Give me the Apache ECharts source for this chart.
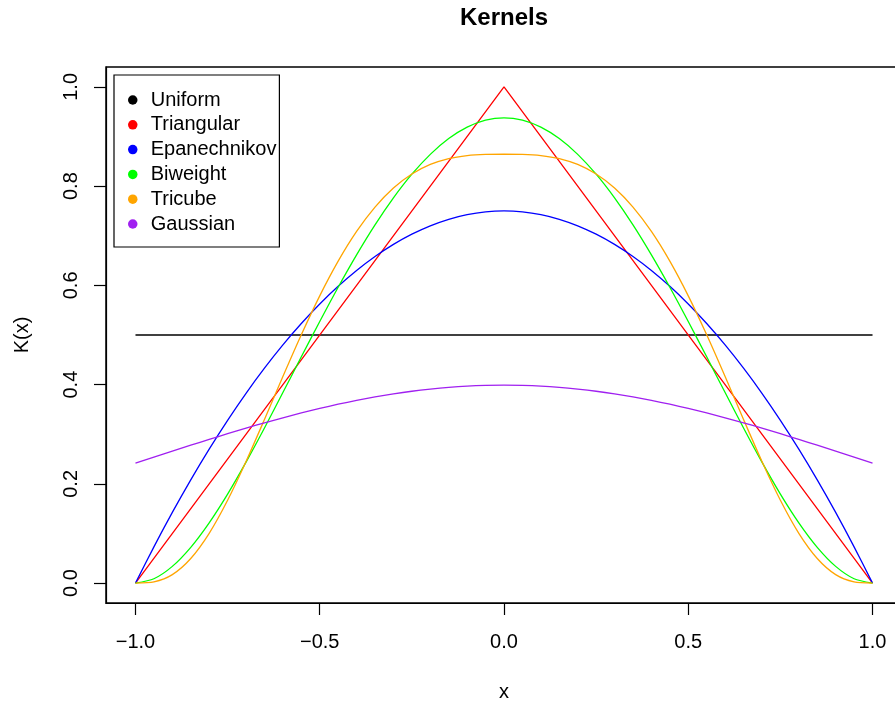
<!DOCTYPE html>
<html>
<head>
<meta charset="utf-8">
<script src="https://cdn.jsdelivr.net/npm/echarts@6/dist/echarts.min.js"></script>
<style>html,body{margin:0;padding:0;background:#fff}#c{width:895px;height:704px}</style>
</head>
<body>
<div id="c"></div>
<script>
// Data
const xs = [-1.0,-0.95,-0.9,-0.85,-0.8,-0.75,-0.7,-0.65,-0.6,-0.55,-0.5,-0.45,-0.4,-0.35,-0.3,-0.25,-0.2,-0.15,-0.1,-0.05,0.0,
            0.05,0.1,0.15,0.2,0.25,0.3,0.35,0.4,0.45,0.5,0.55,0.6,0.65,0.7,0.75,0.8,0.85,0.9,0.95,1.0];
const uniformX = [-1.0, 1.0];
const uniformY = [0.5, 0.5];
const triangularX = [-1.0, 0.0, 1.0];
const triangularY = [0.0, 1.0, 0.0];
const epanechnikov = [0,0.0731,0.1425,0.2081,0.27,0.3281,0.3825,0.4331,0.48,0.5231,0.5625,0.5981,0.63,0.6581,0.6825,0.7031,0.72,0.7331,0.7425,0.7481,0.75,
                      0.7481,0.7425,0.7331,0.72,0.7031,0.6825,0.6581,0.63,0.5981,0.5625,0.5231,0.48,0.4331,0.3825,0.3281,0.27,0.2081,0.1425,0.0731,0];
const biweight = [0,0.0089,0.0338,0.0722,0.1215,0.1794,0.2438,0.3127,0.384,0.4561,0.5273,0.5963,0.6615,0.7219,0.7763,0.824,0.864,0.8958,0.9188,0.9328,0.9375,
                  0.9328,0.9188,0.8958,0.864,0.824,0.7763,0.7219,0.6615,0.5963,0.5273,0.4561,0.384,0.3127,0.2438,0.1794,0.1215,0.0722,0.0338,0.0089,0];
const tricube = [0,0.0025,0.0172,0.0497,0.1004,0.167,0.2451,0.3298,0.4165,0.5006,0.5789,0.6488,0.7087,0.7577,0.7961,0.8243,0.8436,0.8555,0.8616,0.8639,0.8642,
                 0.8639,0.8616,0.8555,0.8436,0.8243,0.7961,0.7577,0.7087,0.6488,0.5789,0.5006,0.4165,0.3298,0.2451,0.167,0.1004,0.0497,0.0172,0.0025,0];
const gaussian = [0.242,0.2541,0.2661,0.278,0.2897,0.3011,0.3123,0.323,0.3332,0.3429,0.3521,0.3605,0.3683,0.3752,0.3814,0.3867,0.391,0.3945,0.397,0.3984,0.3989,
                  0.3984,0.397,0.3945,0.391,0.3867,0.3814,0.3752,0.3683,0.3605,0.3521,0.3429,0.3332,0.323,0.3123,0.3011,0.2897,0.278,0.2661,0.2541,0.242];
const xTicks = [-1.0,-0.5,0.0,0.5,1.0];
const yTicks = [0.0,0.2,0.4,0.6,0.8,1.0];
const names = ['Uniform','Triangular','Epanechnikov','Biweight','Tricube','Gaussian'];
const colors = ['#000000','#FF0000','#0000FF','#00FF00','#FFA500','#A020F0'];

const zip = (a, b) => a.map((v, i) => [v, b[i]]);
const fmt = v => v.toFixed(1).replace('-', '\u2212');
const FONT = 'Liberation Sans, Arial, Helvetica, sans-serif';

const seriesData = [
  zip(uniformX, uniformY),
  zip(triangularX, triangularY),
  zip(xs, epanechnikov),
  zip(xs, biweight),
  zip(xs, tricube),
  zip(xs, gaussian)
];

const chart = echarts.init(document.getElementById('c'), null, {renderer: 'canvas'});
chart.setOption({
  animation: false,
  backgroundColor: '#fff',
  textStyle: {fontFamily: FONT},
  title: {
    text: 'Kernels', left: 504, top: 6, textAlign: 'center', padding: 0,
    textStyle: {fontFamily: FONT, fontSize: 24, fontWeight: 'bold', color: '#000'}
  },
  grid: {
    left: 106, width: 796, top: 67, height: 536, containLabel: false,
    outerBoundsMode: 'none',
    show: true, borderColor: '#000', borderWidth: 1.5, backgroundColor: 'transparent'
  },
  legend: {
    orient: 'vertical', left: 114, top: 75,
    padding: [15, 3, 13, 14],
    itemWidth: 26, itemHeight: 9.5, itemGap: 4.8,
    icon: 'circle',
    borderColor: '#000', borderWidth: 1.2, borderRadius: 0,
    backgroundColor: '#fff',
    textStyle: {fontFamily: FONT, fontSize: 20, color: '#000', lineHeight: 20},
    data: names.map((n, i) => ({name: n, itemStyle: {color: colors[i]}}))
  },
  xAxis: {
    type: 'value', min: -1.08, max: 1.08,
    name: 'x', nameLocation: 'middle', nameGap: 79,
    nameTextStyle: {fontFamily: FONT, fontSize: 20, color: '#000'},
    splitLine: {show: false},
    axisLine: {show: true, onZero: false, lineStyle: {color: '#000', width: 1.2}},
    axisTick: {show: true, length: 12, inside: false, customValues: xTicks, lineStyle: {color: '#000', width: 1.2}},
    axisLabel: {customValues: xTicks, formatter: fmt, margin: 29, fontFamily: FONT, fontSize: 20, color: '#000'}
  },
  yAxis: {
    type: 'value', min: -0.04, max: 1.04,
    name: 'K(x)', nameLocation: 'middle', nameGap: 74, nameRotate: 90,
    nameTextStyle: {fontFamily: FONT, fontSize: 20, color: '#000'},
    splitLine: {show: false},
    axisLine: {show: true, onZero: false, lineStyle: {color: '#000', width: 1.2}},
    axisTick: {show: true, length: 12, inside: false, customValues: yTicks, lineStyle: {color: '#000', width: 1.2}},
    axisLabel: {customValues: yTicks, formatter: fmt, rotate: 90, margin: 25, fontFamily: FONT, fontSize: 20, color: '#000'}
  },
  series: names.map((n, i) => ({
    name: n, type: 'line', data: seriesData[i],
    showSymbol: false, symbol: 'none',
    smooth: i >= 2 ? 0.25 : false,
    itemStyle: {color: colors[i]},
    lineStyle: {color: colors[i], width: 1.3},
    z: 2
  }))
});
</script>
</body>
</html>
